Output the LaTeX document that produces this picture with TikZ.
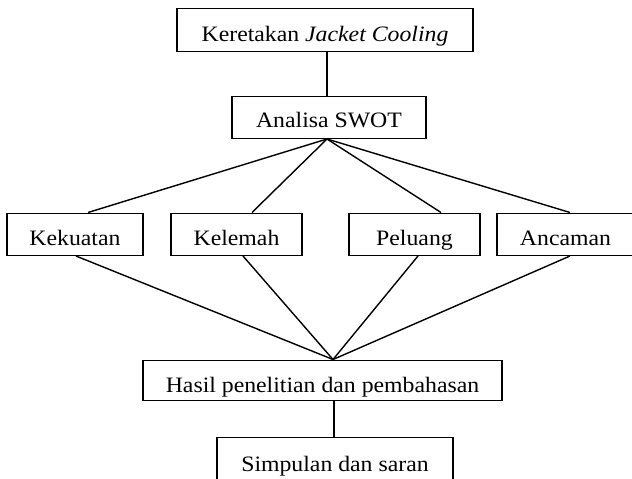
\documentclass[tikz,border=0pt]{standalone}
\usepackage{fontspec}
\setmainfont{Liberation Serif}[FakeStretch=1.08]
\begin{document}
\begin{tikzpicture}[x=1pt,y=-1pt,
  box/.style={draw, line width=1.5pt, inner xsep=0pt, inner ysep=0pt,
    text depth=10pt, text height=32pt, anchor=south,
    font=\fontsize{22}{26}\selectfont},
  link/.style={line width=1.4pt}]
\useasboundingbox (0,0) rectangle (632,479);
\clip (0,0) rectangle (632,479);
\node[box, minimum width=296pt, text height=33pt] (top) at (325,52) {Keretakan \textit{Jacket Cooling}};
\node[box, minimum width=194pt, text depth=11pt, text height=31pt] (swot) at (329,139) {Analisa SWOT};
\node[box, minimum width=136pt] (kek) at (75,256) {Kekuatan};
\node[box, minimum width=131pt] (kel) at (236.5,256) {Kelemah};
\node[box, minimum width=131pt] (pel) at (414.5,256) {Peluang};
\node[box, minimum width=137pt] (anc) at (565.5,256) {Ancaman};
\node[box, minimum width=359pt, text depth=8pt] (has) at (322.5,401) {Hasil penelitian dan pembahasan};
\node[box, minimum width=236pt, text height=34pt] (sim) at (335,482) {Simpulan dan saran};
\draw[link] ([xshift=2pt]top.south) -- ([xshift=-2pt]swot.north);
\coordinate (fan) at ([xshift=-2pt]swot.south);
\draw[link] (fan) -- ([xshift=13pt]kek.north);
\draw[link] (fan) -- ([xshift=15.5pt]kel.north);
\draw[link] (fan) -- ([xshift=26.5pt]pel.north);
\draw[link] (fan) -- ([xshift=4.5pt]anc.north);
\coordinate (meet) at ([xshift=10.5pt]has.north);
\draw[link] ([xshift=1pt]kek.south) -- (meet);
\draw[link] ([xshift=6.5pt]kel.south) -- (meet);
\draw[link] ([xshift=3.5pt]pel.south) -- (meet);
\draw[link] ([xshift=4.5pt]anc.south) -- (meet);
\draw[link] ([xshift=11.5pt]has.south) -- ([xshift=-1pt]sim.north);
\end{tikzpicture}
\end{document}
